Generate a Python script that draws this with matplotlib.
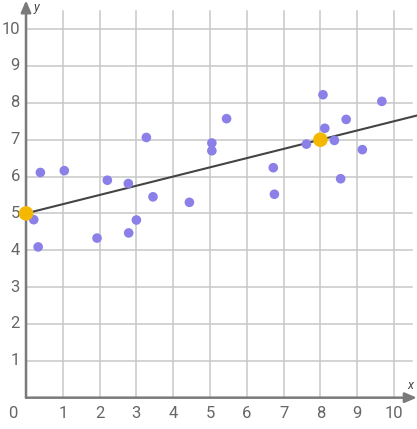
import numpy as np
import matplotlib.pyplot as plt

# данные точек
x_pts = [0.39, 1.04, 2.21, 2.78, 3.27, 3.45, 4.44, 5.05, 5.05, 5.45, 6.72, 6.75,
         7.62, 8.07, 8.12, 8.38, 8.70, 8.55, 9.14, 9.67, 0.21, 0.33, 1.93, 2.79, 3.0]
y_pts = [6.11, 6.16, 5.90, 5.81, 7.06, 5.45, 5.30, 6.91, 6.70, 7.57, 6.24, 5.52,
         6.88, 8.22, 7.31, 6.98, 7.55, 5.94, 6.73, 8.04, 4.83, 4.09, 4.33, 4.47, 4.82]
# две точки прямой
line_x = [0, 8]
line_y = [5, 7]
ticks = list(range(1, 11))

plt.rcParams['font.family'] = ['Roboto', 'DejaVu Sans']

fig = plt.figure(figsize=(4.17, 4.29), dpi=100)
ax = fig.add_axes([0, 0, 1, 1])
ax.set_xlim(-0.707, 10.625)
ax.set_ylim(-0.85, 10.79)
ax.axis('off')

# сетка
grid_c = '#c8c8c8'
for t in ticks:
    ax.plot([t, t], [0, 10.5], color=grid_c, lw=1.1, zorder=1)
    ax.plot([0, 10.5], [t, t], color=grid_c, lw=1.1, zorder=1)

# оси со стрелками
axis_c = '#7a7a7a'
ax.annotate('', xy=(10.62, 0), xytext=(0, 0),
            arrowprops=dict(arrowstyle='-|>,head_length=0.7,head_width=0.3', color=axis_c, lw=1.8, shrinkA=0, shrinkB=0), zorder=2)
ax.annotate('', xy=(0, 10.78), xytext=(0, 0),
            arrowprops=dict(arrowstyle='-|>,head_length=0.7,head_width=0.3', color=axis_c, lw=1.8, shrinkA=0, shrinkB=0), zorder=2)

# подписи
txt_c = '#666666'
for t in ticks:
    ax.text(t, -0.42, str(t), ha='center', va='center', fontsize=12, color=txt_c)
    ax.text(-0.17, t, str(t), ha='right', va='center', fontsize=12, color=txt_c)
ax.text(-0.35, -0.42, '0', ha='center', va='center', fontsize=12, color=txt_c)
ax.text(10.45, 0.33, 'x', ha='center', va='center', fontsize=9, style='italic', color='#444444')
ax.text(0.27, 10.6, 'y', ha='center', va='center', fontsize=9, style='italic', color='#444444')

# прямая
slope = (line_y[1] - line_y[0]) / (line_x[1] - line_x[0])
xx = np.array([0, 10.7])
ax.plot(xx, line_y[0] + slope * (xx - line_x[0]), color='#444444', lw=1.5, zorder=3)

ax.scatter(x_pts, y_pts, s=48, color='#8a80e8', edgecolors='none', zorder=4)
ax.scatter(line_x, line_y, s=110, color='#f5b800', edgecolors='none', zorder=5)

plt.savefig('out.png', dpi=100)
